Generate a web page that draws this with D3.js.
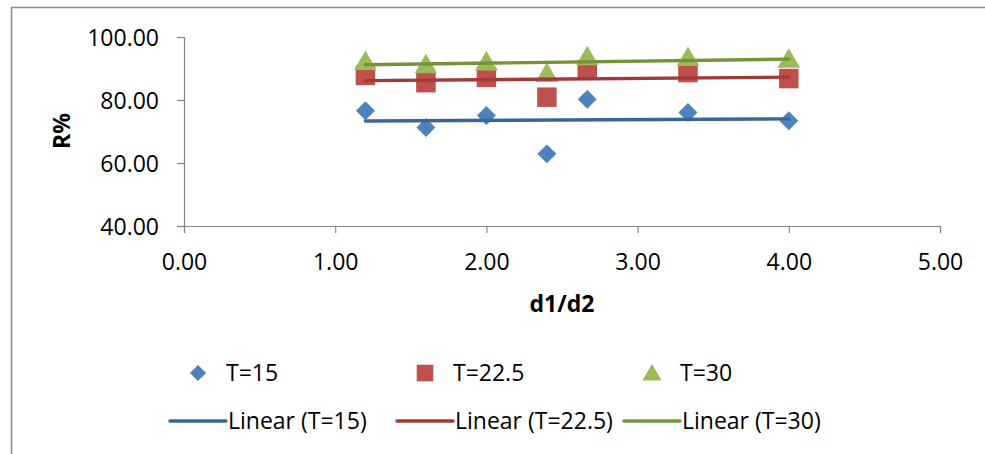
<!DOCTYPE html>
<html>
<head>
<meta charset="utf-8">
<script src="https://cdn.jsdelivr.net/npm/d3@7"></script>
<style>
  html, body { margin: 0; padding: 0; background: #fff; }
  svg text { font-family: "Open Sans", "Liberation Sans", sans-serif; fill: #000; }
</style>
</head>
<body>
<svg id="chart" width="985" height="454"></svg>
<script>
// ---- data ----
const xValues = [1.2, 1.6, 2.0, 2.4, 2.667, 3.333, 4.0];
const seriesNames = ["T=15", "T=22.5", "T=30"];
const valuesT15 = [76.6, 71.3, 75.1, 62.9, 80.2, 76.0, 73.4];
const valuesT225 = [87.8, 85.5, 87.2, 80.9, 89.6, 88.7, 86.8];
const valuesT30 = [92.2, 91.2, 92.1, 88.4, 93.7, 93.5, 92.9];
const xTicks = [0, 1, 2, 3, 4, 5];
const yTicks = [40, 60, 80, 100];
const xTitle = "d1/d2";
const yTitle = "R%";

const markerColors = ["#4F81BD", "#C0504D", "#9BBB59"];
const trendColors = ["#3A6599", "#A03A38", "#76923A"];

const seriesValues = [valuesT15, valuesT225, valuesT30];
const FS = 23;

const svg = d3.select("#chart");

// outer frame
svg.append("path")
  .attr("d", "M11.5,454 L11.5,7.5 L985,7.5")
  .attr("fill", "none").attr("stroke", "#8c8c8c").attr("stroke-width", 1.5);

const x = d3.scaleLinear().domain([0, 5]).range([184, 940]);
const y = d3.scaleLinear().domain([40, 100]).range([226, 37]);

const axisColor = "#868686";

// x axis
const gx = svg.append("g").attr("transform", `translate(0,${y(40)})`)
  .call(d3.axisBottom(x).tickValues(xTicks).tickFormat(d3.format(".2f")).tickSize(7).tickPadding(21));
// y axis
const gy = svg.append("g").attr("transform", `translate(${x(0)},0)`)
  .call(d3.axisLeft(y).tickValues(yTicks).tickFormat(d3.format(".2f")).tickSize(7).tickPadding(18));

[gx, gy].forEach(g => {
  g.select(".domain").attr("stroke", axisColor).attr("stroke-width", 1.2);
  g.selectAll(".tick line").attr("stroke", axisColor).attr("stroke-width", 1.2);
  g.selectAll(".tick text").attr("font-size", FS).attr("fill", "#000")
    .attr("font-family", "'Open Sans', sans-serif");
});
gy.selectAll(".tick text").attr("dy", "0.35em");

// axis titles
svg.append("text").text(xTitle)
  .attr("x", 562).attr("y", 304).attr("dy", "0.35em")
  .attr("text-anchor", "middle").attr("font-size", FS).attr("font-weight", "bold");
svg.append("text").text(yTitle)
  .attr("transform", "translate(62,131) rotate(-90)").attr("dy", "0.35em")
  .attr("text-anchor", "middle").attr("font-size", FS).attr("font-weight", "bold");

// linear regression
function regress(xs, ys) {
  const n = xs.length;
  const mx = d3.mean(xs), my = d3.mean(ys);
  let sxy = 0, sxx = 0;
  for (let i = 0; i < n; i++) { sxy += (xs[i]-mx)*(ys[i]-my); sxx += (xs[i]-mx)**2; }
  const b = sxy / sxx;
  return { a: my - b*mx, b };
}

// marker shapes: diamond = rotated square
const markerPath = [
  d3.symbol().type(d3.symbolSquare).size(180)(),
  d3.symbol().type(d3.symbolSquare).size(380)(),
  d3.symbol().type(d3.symbolTriangle).size(220)()
];
const markerRot = [45, 0, 0];
const markerDy = [0, 0, 2];

seriesValues.forEach((vals, s) => {
  svg.append("g").selectAll("path").data(vals).join("path")
    .attr("transform", (d, i) => `translate(${x(xValues[i])},${y(d) + markerDy[s]}) rotate(${markerRot[s]})`)
    .attr("d", markerPath[s])
    .attr("fill", markerColors[s]);
});

const xMin = d3.min(xValues), xMax = d3.max(xValues);
seriesValues.forEach((vals, s) => {
  const r = regress(xValues, vals);
  svg.append("line")
    .attr("x1", x(xMin)).attr("y1", y(r.a + r.b*xMin))
    .attr("x2", x(xMax)).attr("y2", y(r.a + r.b*xMax))
    .attr("stroke", trendColors[s]).attr("stroke-width", 3.4).attr("stroke-linecap", "round");
});

// legend
const legendX0 = 170, legendStep = 227;
seriesNames.forEach((name, s) => {
  const lx = legendX0 + s*legendStep;
  svg.append("path")
    .attr("transform", `translate(${lx + 28},${373 + markerDy[s]}) rotate(${markerRot[s]}) scale(0.85)`)
    .attr("d", markerPath[s])
    .attr("fill", markerColors[s]);
  svg.append("text").text(name)
    .attr("x", lx + 56).attr("y", 373).attr("dy", "0.35em").attr("font-size", FS);
  svg.append("line")
    .attr("x1", lx).attr("x2", lx + 56).attr("y1", 421).attr("y2", 421)
    .attr("stroke", trendColors[s]).attr("stroke-width", 3.4).attr("stroke-linecap", "round");
  svg.append("text").text(`Linear (${name})`)
    .attr("x", lx + 58).attr("y", 421).attr("dy", "0.35em").attr("font-size", FS);
});
</script>
</body>
</html>
